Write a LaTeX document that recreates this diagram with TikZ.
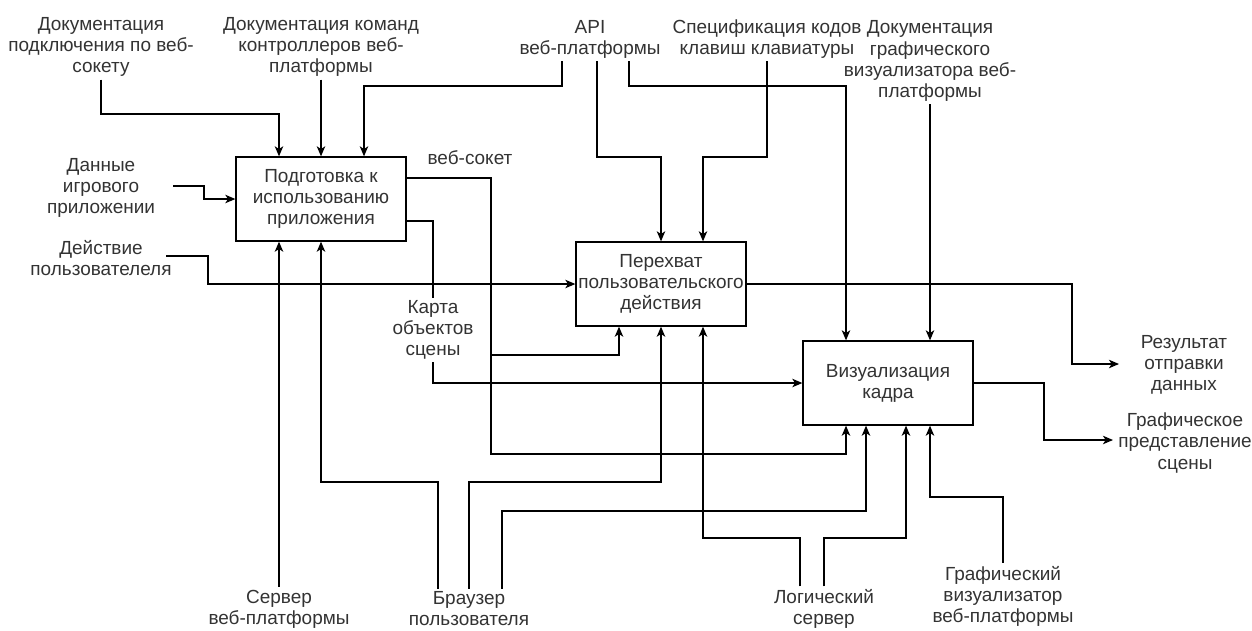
\documentclass[tikz,border=0pt]{standalone}
\usepackage{fontspec}
\setmainfont{Liberation Sans}
\usetikzlibrary{arrows.meta}
\definecolor{txt}{HTML}{333333}
\begin{document}
\begin{tikzpicture}[x=0.02cm,y=-0.02cm,
  every node/.style={font=\fontsize{10.8}{12}\selectfont,text=txt,align=center,inner sep=1.5pt},
  func/.style={draw=black,line width=0.75pt,minimum width=3.4cm,minimum height=1.68cm,inner sep=0pt},
  flow/.style={line width=0.75pt,-{Stealth[length=5.7pt,width=4.8pt,inset=1.5pt]}},
  wire/.style={line width=0.75pt}]
\useasboundingbox (0,0) rectangle (1252,630);
\node[func] (prep) at (321,199) {Подготовка к\\использованию\\приложения};
\node[func] (intercept) at (661,284) {Перехват\\пользовательского\\действия};
\node[func] (render) at (888,383) {Визуализация\\кадра};
\node (docws) at (101,47) {Документация\\подключения по веб-\\сокету};
\node (doccmd) at (321,47) {Документация команд\\контроллеров веб-\\платформы};
\node (api) at (590,39) {API\\веб-платформы};
\node (spec) at (767,39) {Спецификация кодов\\клавиш клавиатуры};
\node (docgfx) at (930,61) {Документация\\графического\\визуализатора веб-\\платформы};
\node (gamedata) at (101,188) {Данные\\игрового\\приложении};
\node (useraction) at (101,258) {Действие\\пользователеля};
\node (wslabel) at (470,158) {веб-сокет};
\node (scenemap) at (433,330) {Карта\\объектов\\сцены};
\node (result) at (1184,365) {Результат\\отправки\\данных};
\node (sceneout) at (1185,443) {Графическое\\представление\\сцены};
\node (server) at (279,609) {Сервер\\веб-платформы};
\node (browser) at (469,609) {Браузер\\пользователя};
\node (logic) at (824,609) {Логический\\сервер};
\node (gfxvis) at (1003,596) {Графический\\визуализатор\\веб-платформы};
\coordinate (gamedataout) at (173,186);
\coordinate (useractionout) at (166,256);
\coordinate (resultin) at (1119,364);
\coordinate (scenein) at (1113,440);
\coordinate (wsfork) at (491,355);
\draw[flow] (docws.south) |- (279,114) -- (prep.north -| 279,0);
\draw[flow] (doccmd.south) -- (prep.north);
\draw[flow] (api.south -| 562,0) |- (364,86) -- (prep.north -| 364,0);
\draw[flow] (api.south -| 597,0) |- (661,157) -- (intercept.north);
\draw[flow] (api.south -| 629,0) |- (846,86) -- (render.north -| 846,0);
\draw[flow] (spec.south) |- (703,157) -- (intercept.north -| 703,0);
\draw[flow] (docgfx.south) -- (render.north -| 930,0);
\draw[flow] (gamedataout) -- (204,186) |- (prep.west);
\draw[flow] (useractionout) -| (208,284) -- (intercept.west);
\draw[flow] (prep.east |- 0,178) -| (491,454) -| (render.south -| 846,0);
\draw[flow] (wsfork) -| (intercept.south -| 619,0);
\draw[wire] (prep.east |- 0,221) -| (scenemap.north);
\draw[flow] (scenemap.south) |- (render.west);
\draw[flow] (intercept.east) -| (1072,364) -- (resultin);
\draw[flow] (render.east) -| (1044,440) -- (scenein);
\draw[flow] (server.north) -- (prep.south -| 279,0);
\draw[flow] (browser.north -| 438,0) |- (321,482) -- (prep.south);
\draw[flow] (browser.north) |- (661,482) -- (intercept.south);
\draw[flow] (browser.north -| 502,0) |- (866,511) -- (render.south -| 866,0);
\draw[flow] (logic.north -| 800,0) |- (703,538) -- (intercept.south -| 703,0);
\draw[flow] (logic.north) |- (906,538) -- (render.south -| 906,0);
\draw[flow] (gfxvis.north) |- (930,497) -- (render.south -| 930,0);
\end{tikzpicture}
\end{document}
